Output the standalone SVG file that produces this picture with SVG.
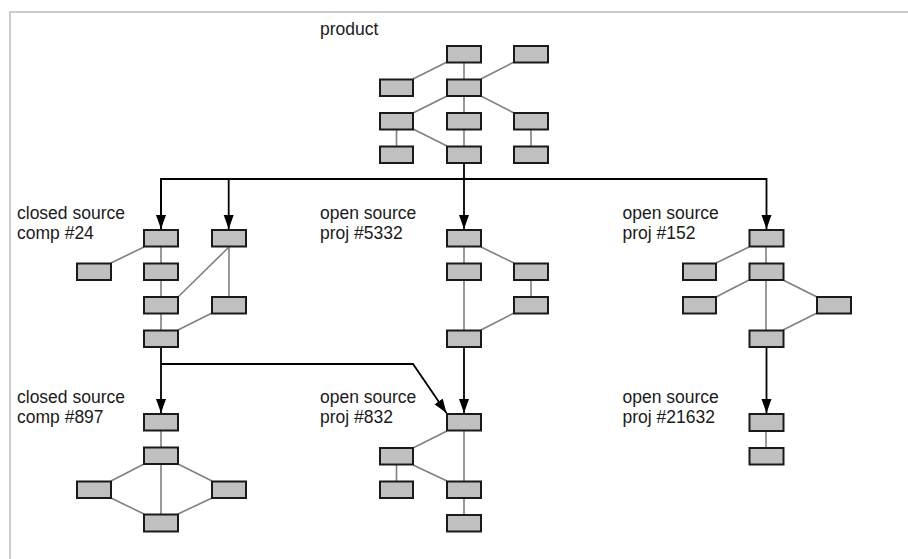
<svg xmlns="http://www.w3.org/2000/svg" width="908" height="559" viewBox="0 0 908 559">
<style>
.n{fill:#c0c0c0;stroke:#1a1a1a;stroke-width:2}
.e{stroke:#808080;stroke-width:1.6;fill:none}
.a{stroke:#000;stroke-width:1.8;fill:none}
.t{font-family:"Liberation Sans",Arial,sans-serif;font-size:17.5px;fill:#1a1a1a}
</style>
<defs>
<marker id="ah" markerUnits="userSpaceOnUse" markerWidth="15" markerHeight="11" refX="14" refY="5" orient="auto">
<path d="M0,0 L14,5 L0,10 z" fill="#000"/>
</marker>
</defs>
<rect x="0" y="0" width="908" height="559" fill="#fff"/>
<path d="M10,559 V12 H908" fill="none" stroke="#cccccc" stroke-width="2"/>

<g id="labels">
<text class="t" x="320" y="35">product</text>
<text class="t" x="17" y="219">closed source</text>
<text class="t" x="17" y="239">comp #24</text>
<text class="t" x="320" y="219">open source</text>
<text class="t" x="320" y="239">proj #5332</text>
<text class="t" x="622.5" y="219">open source</text>
<text class="t" x="622.5" y="239">proj #152</text>
<text class="t" x="17" y="403">closed source</text>
<text class="t" x="17" y="423">comp #897</text>
<text class="t" x="320" y="403">open source</text>
<text class="t" x="320" y="423">proj #832</text>
<text class="t" x="622.5" y="403">open source</text>
<text class="t" x="622.5" y="423">proj #21632</text>
</g>

<g id="connectors">
<!-- product -->
<line class="e" x1="464" y1="63" x2="464" y2="79"/>
<line class="e" x1="447" y1="62" x2="413" y2="79"/>
<line class="e" x1="514" y1="62" x2="481" y2="79"/>
<line class="e" x1="447" y1="96" x2="413" y2="113"/>
<line class="e" x1="464" y1="96" x2="464" y2="113"/>
<line class="e" x1="481" y1="96" x2="514" y2="113"/>
<line class="e" x1="396.5" y1="129" x2="396.5" y2="146"/>
<line class="e" x1="413" y1="129" x2="447" y2="146"/>
<line class="e" x1="464" y1="129" x2="464" y2="146"/>
<line class="e" x1="531" y1="129" x2="531" y2="146"/>
<!-- comp #24 -->
<line class="e" x1="144" y1="247" x2="111" y2="263"/>
<line class="e" x1="161" y1="247" x2="161" y2="330"/>
<line class="e" x1="229" y1="247" x2="178" y2="297"/>
<line class="e" x1="229" y1="247" x2="229" y2="297"/>
<line class="e" x1="212" y1="313" x2="178" y2="330"/>
<!-- proj #5332 -->
<line class="e" x1="464" y1="247" x2="464" y2="330"/>
<line class="e" x1="481" y1="247" x2="514" y2="263"/>
<line class="e" x1="531" y1="280" x2="531" y2="297"/>
<line class="e" x1="514" y1="313" x2="481" y2="330"/>
<!-- proj #152 -->
<line class="e" x1="749" y1="247" x2="716" y2="263"/>
<line class="e" x1="766" y1="247" x2="766" y2="330"/>
<line class="e" x1="749" y1="280" x2="716" y2="297"/>
<line class="e" x1="783" y1="280" x2="817" y2="297"/>
<line class="e" x1="817" y1="313" x2="783" y2="330"/>
<!-- comp #897 -->
<line class="e" x1="161" y1="431" x2="161" y2="514"/>
<line class="e" x1="144" y1="464" x2="111" y2="481"/>
<line class="e" x1="178" y1="464" x2="212" y2="481"/>
<line class="e" x1="111" y1="498" x2="144" y2="514"/>
<line class="e" x1="212" y1="498" x2="178" y2="514"/>
<!-- proj #832 -->
<line class="e" x1="447" y1="431" x2="413" y2="448"/>
<line class="e" x1="464" y1="431" x2="464" y2="515"/>
<line class="e" x1="396.5" y1="465" x2="396.5" y2="481"/>
<line class="e" x1="413" y1="465" x2="447" y2="481"/>
<!-- proj #21632 -->
<line class="e" x1="766" y1="431" x2="766" y2="448"/>

<!-- dependency arrows -->
<path class="a" d="M464,163 V179"/>
<path class="a" d="M161,229 V179 H766.5 V229" marker-end="url(#ah)"/>
<path class="a" d="M161,179 V229" marker-end="url(#ah)"/>
<path class="a" d="M228.7,179 V229" marker-end="url(#ah)"/>
<path class="a" d="M464,179 V229" marker-end="url(#ah)"/>
<path class="a" d="M161,347 V413" marker-end="url(#ah)"/>
<path class="a" d="M161,364 H413 L446.5,413" marker-end="url(#ah)"/>
<path class="a" d="M464,347 V413" marker-end="url(#ah)"/>
<path class="a" d="M766.5,347 V413" marker-end="url(#ah)"/>
</g>

<g id="product">
<rect class="n" x="447" y="46" width="34" height="16.5"/>
<rect class="n" x="514" y="46" width="34" height="16.5"/>
<rect class="n" x="380" y="79.5" width="33" height="16.5"/>
<rect class="n" x="447" y="79.5" width="34" height="16.5"/>
<rect class="n" x="380" y="113" width="33" height="16.5"/>
<rect class="n" x="447" y="113" width="34" height="16.5"/>
<rect class="n" x="514" y="113" width="34" height="16.5"/>
<rect class="n" x="380" y="146.5" width="33" height="16.5"/>
<rect class="n" x="447" y="146.5" width="34" height="16.5"/>
<rect class="n" x="514" y="146.5" width="34" height="16.5"/>
</g>

<g id="comp24">
<rect class="n" x="144" y="230" width="34" height="16.5"/>
<rect class="n" x="212" y="230" width="34" height="16.5"/>
<rect class="n" x="77" y="263.5" width="34" height="16.5"/>
<rect class="n" x="144" y="263.5" width="34" height="16.5"/>
<rect class="n" x="144" y="297" width="34" height="16.5"/>
<rect class="n" x="212" y="297" width="34" height="16.5"/>
<rect class="n" x="144" y="330.5" width="34" height="16.5"/>
</g>

<g id="proj5332">
<rect class="n" x="447" y="230" width="34" height="16.5"/>
<rect class="n" x="447" y="263.5" width="34" height="16.5"/>
<rect class="n" x="514" y="263.5" width="34" height="16.5"/>
<rect class="n" x="514" y="297" width="34" height="16.5"/>
<rect class="n" x="447" y="330.5" width="34" height="16.5"/>
</g>

<g id="proj152">
<rect class="n" x="749.5" y="230" width="34" height="16.5"/>
<rect class="n" x="683" y="263.5" width="33" height="16.5"/>
<rect class="n" x="749.5" y="263.5" width="34" height="16.5"/>
<rect class="n" x="683" y="297" width="33" height="16.5"/>
<rect class="n" x="817" y="297" width="34" height="16.5"/>
<rect class="n" x="749.5" y="330.5" width="34" height="16.5"/>
</g>

<g id="comp897">
<rect class="n" x="144" y="414" width="34" height="16.5"/>
<rect class="n" x="144" y="447.5" width="34" height="16.5"/>
<rect class="n" x="77" y="481.5" width="34" height="16.5"/>
<rect class="n" x="212" y="481.5" width="34" height="16.5"/>
<rect class="n" x="144" y="514.5" width="34" height="17"/>
</g>

<g id="proj832">
<rect class="n" x="447" y="414" width="34" height="16.5"/>
<rect class="n" x="380" y="448" width="33" height="16.5"/>
<rect class="n" x="380" y="481.5" width="33" height="16.5"/>
<rect class="n" x="447" y="481.5" width="34" height="16.5"/>
<rect class="n" x="447" y="515" width="34" height="16.5"/>
</g>

<g id="proj21632">
<rect class="n" x="749.5" y="414" width="34" height="17"/>
<rect class="n" x="749.5" y="448" width="34" height="16.5"/>
</g>
</svg>
